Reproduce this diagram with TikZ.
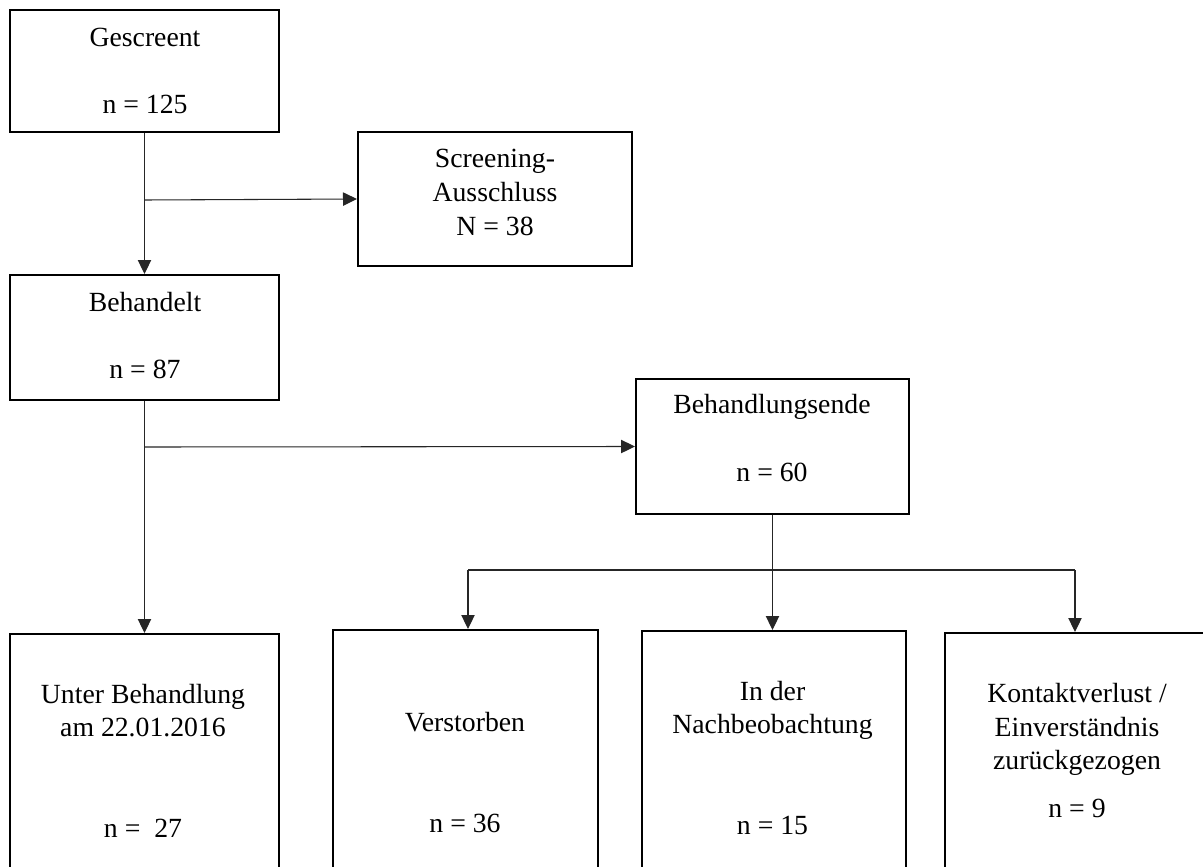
\documentclass[tikz,border=0pt]{standalone}
\usepackage{fontspec}
\setmainfont{Liberation Serif}
\usetikzlibrary{arrows.meta}
\begin{document}
\begin{tikzpicture}[x=0.75pt,y=-0.75pt,
  box/.style={draw=black,line width=1.5pt,rectangle,inner sep=0pt},
  txt/.style={inner sep=0pt,anchor=center,text height=13.8pt,text depth=0pt,font=\fontsize{20.8pt}{25pt}\selectfont},
  conn/.style={draw=black!85,line width=0.8pt},
  arr/.style={conn,-{Triangle[length=10.5pt,width=10pt]}}]
\useasboundingbox (0,0) rectangle (1203,867);
\clip (0,0) rectangle (1203,867);
\fill[white] (0,0) rectangle (1203,867);
% boxes
\node[box,minimum width=201.75pt,minimum height=91.5pt] (G) at (144.5,71) {};
\node[box,minimum width=205.5pt,minimum height=100.5pt] (S) at (495,199) {};
\node[box,minimum width=201.75pt,minimum height=93.75pt] (B) at (144.5,337.5) {};
\node[box,minimum width=204.75pt,minimum height=101.25pt] (E) at (772.5,446.5) {};
\node[box,minimum width=201.75pt,minimum height=229.5pt] (U) at (144.5,787) {};
\node[box,minimum width=198.75pt,minimum height=232.5pt] (V) at (465.5,785) {};
\node[box,minimum width=198pt,minimum height=231.75pt] (N) at (774,785.5) {};
\node[box,minimum width=198.75pt,minimum height=230.25pt] (K) at (1077.5,786.5) {};
% texts
\node[txt] (g1) at (145,37) {Gescreent};
\node[txt] (g2) at (145,104) {n = 125};
\node[txt] (s1) at (495,158) {Screening-};
\node[txt] (s2) at (495,192) {Ausschluss};
\node[txt] (s3) at (495,226) {N = 38};
\node[txt] (b1) at (145,302) {Behandelt};
\node[txt] (b2) at (145,369) {n = 87};
\node[txt] (e1) at (772,404) {Behandlungsende};
\node[txt] (e2) at (772,472) {n = 60};
\node[txt] (u1) at (143,694) {Unter Behandlung};
\node[txt] (u2) at (143,727) {am 22.01.2016};
\node[txt] (u3) at (143,828) {n = ~27};
\node[txt] (v1) at (465,722) {Verstorben};
\node[txt] (v2) at (465,823) {n = 36};
\node[txt] (n1) at (772.5,691) {In der};
\node[txt] (n2) at (772.5,724) {Nachbeobachtung};
\node[txt] (n3) at (772.5,825) {n = 15};
\node[txt] (k1) at (1077,693) {Kontaktverlust /};
\node[txt] (k2) at (1077,727) {Einverständnis};
\node[txt] (k3) at (1077,760) {zurückgezogen};
\node[txt] (k4) at (1077,808) {n = 9};
% connectors
\coordinate (j1) at (144.5,200);
\coordinate (j2) at (144.5,447);
\coordinate (hl) at (468,570);
\coordinate (hr) at (1075,570);
\draw[arr] (G.south) -- (B.north);
\draw[arr] (j1) -- (S.west);
\draw[arr] (B.south) -- (U.north);
\draw[arr] (j2) -- (E.west);
\draw[arr] (E.south) -- (E.south |- N.north);
\draw[conn] (hl) -- (hr);
\draw[arr] (hl) -- (hl |- V.north);
\draw[arr] (hr) -- (hr |- K.north);
\end{tikzpicture}
\end{document}
